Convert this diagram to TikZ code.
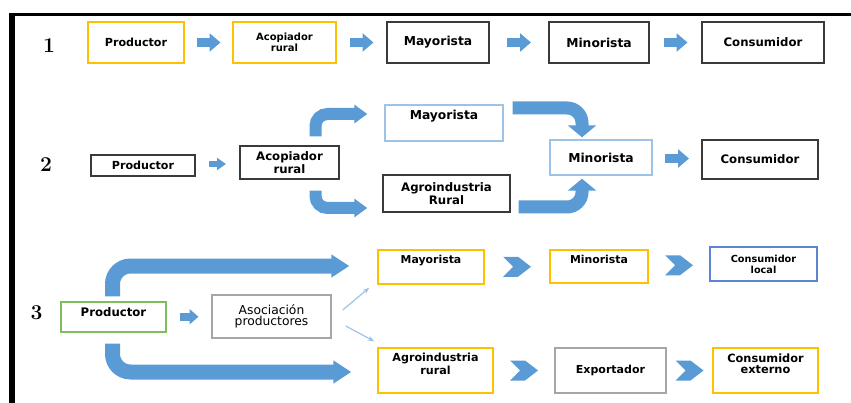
\documentclass[tikz,border=0pt]{standalone}
\usepackage{fontspec}
\newfontfamily\boxfont{DejaVu Sans}
\usetikzlibrary{arrows.meta,calc}
\newdimen\px
\px=0.03cm

\begin{document}
\begin{tikzpicture}[x=\px, y=-\px,
  box/.style={draw=#1, line width=1.4\px, inner sep=0pt, align=center},
  dims/.style 2 args={minimum width=#1\px, minimum height=#2\px},
  fs/.style 2 args={font=\boxfont\bfseries\fontsize{#1}{#2}\selectfont},
  toplabel/.style n args={3}{label={[anchor=north, inner sep=0pt, yshift=-6\px, align=center,
      font=\boxfont\bfseries\fontsize{#1}{#2}\selectfont]north:#3}},
  numtext/.style={font=\bfseries\fontsize{18}{18}\selectfont, inner sep=0pt},
  fatarrow/.style={draw=arrowblue, line width=9\px, -{Triangle[width=0.54cm, length=0.33cm]}},
  smallarrow/.style={draw=arrowblue, line width=6\px, -{Triangle[width=0.36cm, length=0.27cm]}},
  midarrow/.style={draw=arrowblue, line width=8\px, -{Triangle[width=0.45cm, length=0.27cm]}},
  bentsmall/.style={draw=arrowblue, line width=12\px, rounded corners=12\px, -{Triangle[width=0.54cm, length=0.39cm]}},
  bentwide/.style={draw=arrowblue, line width=13\px, rounded corners=15\px, -{Triangle[width=0.84cm, length=0.36cm]}},
  bentbig/.style={draw=arrowblue, line width=15\px, rounded corners=18\px, -{Triangle[width=0.66cm, length=0.54cm]}},
  thinarrow/.style={draw=paleline, line width=1.2\px, -{Stealth[length=0.2cm, width=0.15cm]}}
]

  % --- Farben ---
  \definecolor{arrowblue}{HTML}{5B9BD5}
  \definecolor{orangeline}{HTML}{FFC000}
  \definecolor{paleline}{HTML}{9DC3E6}
  \definecolor{greenline}{HTML}{7FBF5A}
  \definecolor{grayline}{HTML}{A6A6A6}
  \definecolor{blueline}{HTML}{5B85D0}
  \definecolor{darkline}{HTML}{3A3A3A}

  % --- Hilfsmakros ---
  % \blockarrow[Stil]{links}{rechts}{halbe Laenge}
  \newcommand{\blockarrow}[4][fatarrow]{%
    \draw[#1] ($(#2.east)!0.5!(#3.west)$) ++(-#4,0) -- ++(2*#4,0);
  }
  % \chevron{links}{rechts}
  \newcommand{\chevron}[2]{%
    \fill[arrowblue] ($(#1.east)!0.5!(#2.west)$) ++(-14,-10) -- ++(15,0) -- ++(13,10)
      -- ++(-13,10) -- ++(-15,0) -- ++(10,-10) -- cycle;
  }

  \useasboundingbox (0,0) rectangle (851,403);

  % --- Rahmen ---
  \draw[line width=6\px] (12,13) -- (12,403);
  \draw[line width=3\px] (9,14.5) -- (851,14.5);

  % --- Kanal 1 ---
  \node[numtext] (n1) at (49,45.5) {1};
  \node[box=orangeline, dims={96}{41}, fs={9.5}{10}] (p1) at (136,42.5) {Productor};
  \node[box=orangeline, dims={103}{41}, fs={8.5}{9}] (a1) at (284.5,42.5) {Acopiador\\rural};
  \node[box=darkline, dims={102}{41}, fs={10.5}{11}] (m1) at (438,42.5) {Mayorista};
  \node[box=darkline, dims={100}{41}, fs={10.5}{11}] (mi1) at (599,42.5) {Minorista};
  \node[box=darkline, dims={122}{41}, fs={10}{11}] (c1) at (763,42.5) {Consumidor};

  \blockarrow{p1}{a1}{12}
  \blockarrow{a1}{m1}{12}
  \blockarrow{m1}{mi1}{12}
  \blockarrow{mi1}{c1}{12}

  % --- Kanal 2 ---
  \node[numtext] (n2) at (46,165) {2};
  \node[box=darkline, dims={104}{21}, fs={9.5}{10}] (p2) at (143,165.5) {Productor};
  \node[box=darkline, dims={99}{33}, fs={10}{9.5}] (a2) at (289.5,162.5) {Acopiador\\rural};
  \node[box=paleline, dims={118}{36}, toplabel={10.5}{11}{Mayorista}] (m2) at (444,123) {};
  \node[box=darkline, dims={127}{37}, fs={10}{11}] (g2) at (446.5,193.5) {Agroindustria\\Rural};
  \node[box=paleline, dims={102}{35}, fs={10.5}{11}] (mi2) at (601,157.5) {Minorista};
  \node[box=darkline, dims={116}{39}, fs={10}{11}] (c2) at (760,159.5) {Consumidor};

  \blockarrow[smallarrow]{p2}{a2}{8.5}
  \blockarrow{mi2}{c2}{12}
  \draw[bentsmall] ([xshift=26\px, yshift=9\px]a2.north) |- ([xshift=-17\px, yshift=9\px]m2.west);
  \draw[bentsmall] ([xshift=26\px, yshift=-11\px]a2.south) |- ([xshift=-15\px, yshift=-14.5\px]g2.west);
  \draw[bentwide] ([xshift=9\px, yshift=15\px]m2.east) -| ([xshift=-19\px, yshift=2\px]mi2.north);
  \draw[bentwide] ([xshift=8\px, yshift=-13.5\px]g2.east) -| ([xshift=-19\px, yshift=-3\px]mi2.south);

  % --- Kanal 3 ---
  \node[numtext] (n3) at (36.5,313) {3};
  \node[box=greenline, dims={105}{30}, toplabel={10}{10}{Productor}] (p3) at (113.5,317) {};
  \node[box=grayline, dims={119}{43}, font=\boxfont\fontsize{10.5}{10}\selectfont] (s3) at (271.5,316.5) {Asociación\\productores};
  \node[box=orangeline, dims={106}{34}, toplabel={9.3}{10}{Mayorista}] (m3) at (431,267) {};
  \node[box=orangeline, dims={98}{33}, toplabel={9.3}{10}{Minorista}] (mi3) at (599,266.5) {};
  \node[box=blueline, dims={107}{34}, fs={8.3}{9.5}] (l3) at (763.5,264) {Consumidor\\local};
  \node[box=orangeline, dims={115}{45}, toplabel={9.5}{9}{Agroindustria\\rural}] (g3) at (435.5,370.5) {};
  \node[box=grayline, dims={111}{45}, fs={9.4}{10}] (e3) at (610.5,370.5) {Exportador};
  \node[box=orangeline, dims={105}{45}, toplabel={9.7}{9.5}{Consumidor\\externo}] (x3) at (765.5,370.5) {};

  \blockarrow[midarrow]{p3}{s3}{9.5}
  \draw[bentbig] ([xshift=-1\px, yshift=5\px]p3.north) |- ([xshift=-28\px, yshift=1\px]m3.west);
  \draw[bentbig] ([xshift=-1\px, yshift=-11\px]p3.south) |- ([xshift=-26\px, yshift=-1.5\px]g3.west);
  \draw[thinarrow] ([xshift=11\px, yshift=6.5\px]s3.east) -- ([xshift=-8\px, yshift=-3\px]m3.south west);
  \draw[thinarrow] ([xshift=14\px, yshift=-9.5\px]s3.east) -- ([xshift=-3\px, yshift=6\px]g3.north west);

  \chevron{m3}{mi3}
  \chevron{mi3}{l3}
  \chevron{g3}{e3}
  \chevron{e3}{x3}

\end{tikzpicture}
\end{document}
